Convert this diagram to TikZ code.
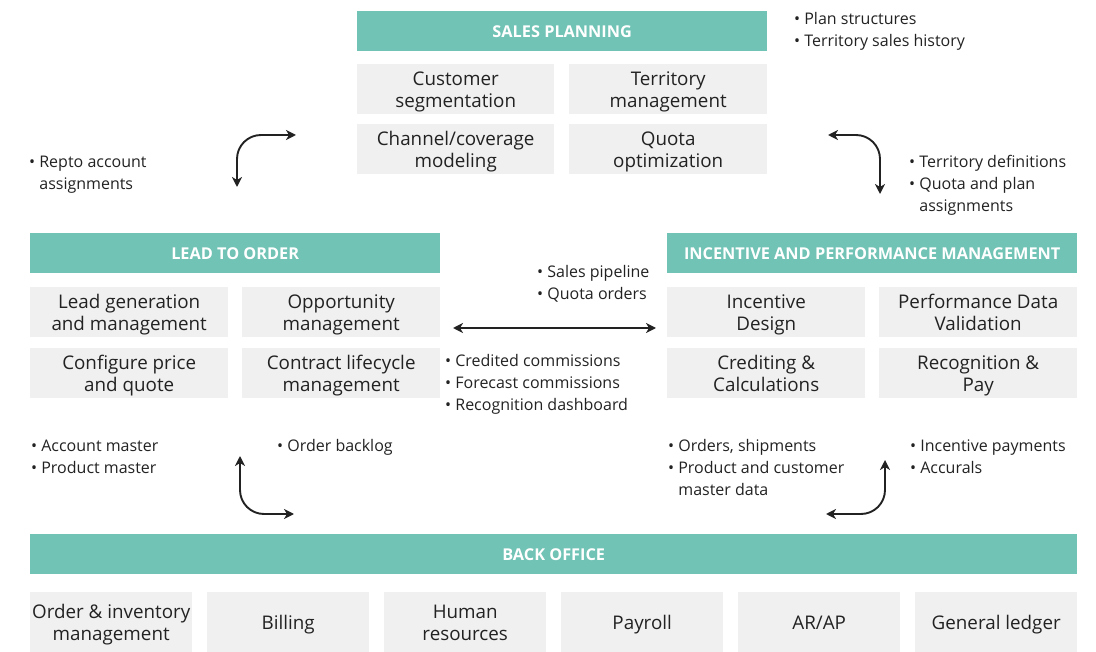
\documentclass[tikz,border=0pt]{standalone}
\usepackage{fontspec}
\setmainfont{Open Sans}
\usetikzlibrary{arrows.meta}
\definecolor{teal}{HTML}{70C3B5}
\definecolor{boxgray}{HTML}{F0F0F0}
\definecolor{ink}{HTML}{222222}
\newcommand{\cst}{\vphantom{dg}}
\tikzset{
  hdr/.style={fill=teal, draw=none, text=white, font=\bfseries\fontsize{16.3}{18}\selectfont, inner sep=0, anchor=north west, minimum height=40pt},
  cellbg/.style={fill=boxgray, draw=none, inner sep=0, anchor=north west},
  celltext/.style={text=ink, align=center, inner sep=0, font=\fontsize{18.8}{22}\selectfont,
    execute at begin node=\cst, execute at end node=\cst},
  blist/.style={anchor=north west, align=left, inner sep=0, text=ink, font=\fontsize{16}{22}\selectfont},
  conn/.style={line width=1.9pt, draw=ink, {Stealth[length=10pt,width=10pt,inset=3pt]}-{Stealth[length=10pt,width=10pt,inset=3pt]}, rounded corners=24pt}
}
\newcommand{\hb}{\phantom{•\ }}
\newcommand{\cellbox}[6]{%
  \node[cellbg, minimum width=#4pt, minimum height=#5pt] (#1) at (#2,#3) {};
  \node[celltext] (#1-t) at ([yshift=-2.5pt]#1.center) {#6};}
\begin{document}
\begin{tikzpicture}[x=1pt,y=-1pt]
\useasboundingbox (0,0) rectangle (1096,652);

% Sales planning
\node[hdr, minimum width=410pt] (sp) at (357,11) {SALES PLANNING};
\cellbox{sp1}{357}{64}{197}{50}{Customer\\segmentation}
\cellbox{sp2}{569}{64}{198}{50}{Territory\\management}
\cellbox{sp3}{357}{124}{197}{50}{Channel/coverage\\modeling}
\cellbox{sp4}{569}{124}{198}{50}{Quota\\optimization}

% Lead to order
\node[hdr, minimum width=410pt] (lo) at (30,233) {LEAD TO ORDER};
\cellbox{lo1}{30}{287}{198}{50}{Lead generation\\and management}
\cellbox{lo2}{242}{287}{198}{50}{Opportunity\\management}
\cellbox{lo3}{30}{348}{198}{50}{Configure price\\and quote}
\cellbox{lo4}{242}{348}{198}{50}{Contract lifecycle\\management}

% Incentive
\node[hdr, minimum width=410pt] (ip) at (667,233) {INCENTIVE AND PERFORMANCE MANAGEMENT};
\cellbox{ip1}{667}{287}{198}{50}{Incentive\\Design}
\cellbox{ip2}{879}{287}{198}{50}{Performance Data\\Validation}
\cellbox{ip3}{667}{348}{198}{50}{Crediting \&\\Calculations}
\cellbox{ip4}{879}{348}{198}{50}{Recognition \&\\Pay}

% Back office
\node[hdr, minimum width=1047pt] (bo) at (30,534) {BACK OFFICE};
\cellbox{bo1}{30}{592}{162}{60}{Order \& inventory\\management}
\cellbox{bo2}{207}{592}{162}{60}{Billing}
\cellbox{bo3}{384}{592}{162}{60}{Human\\resources}
\cellbox{bo4}{561}{592}{162}{60}{Payroll}
\cellbox{bo5}{738}{592}{162}{60}{AR/AP}
\cellbox{bo6}{915}{592}{162}{60}{General ledger}

% bullet lists
\node[blist] (t1) at (794,12.5) {• Plan structures\\• Territory sales history};
\node[blist] (t2) at (29,155.5) {• Repto account\\\hb assignments};
\node[blist] (t3) at (909,155.5) {• Territory definitions\\• Quota and plan\\\hb assignments};
\node[blist] (t4) at (537,265.5) {• Sales pipeline\\• Quota orders};
\node[blist] (t5) at (445,354.5) {• Credited commissions\\• Forecast commissions\\• Recognition dashboard};
\node[blist] (t6) at (31,439.5) {• Account master\\• Product master};
\node[blist] (t7) at (277,439.5) {• Order backlog};
\node[blist] (t8) at (668,439.5) {• Orders, shipments\\• Product and customer\\\hb master data};
\node[blist] (t9) at (910,439.5) {• Incentive payments\\• Accurals};

% connectors
\coordinate (a1s) at (237,187);
\coordinate (a1e) at (296,135);
\draw[conn] (a1s) |- (a1e);
\coordinate (a2s) at (828,135);
\coordinate (a2e) at (880,194);
\draw[conn] (a2s) -| (a2e);
\coordinate (a3s) at (240,456);
\coordinate (a3e) at (294,514);
\draw[conn] (a3s) |- (a3e);
\coordinate (a4s) at (826,514);
\coordinate (a4e) at (885,460);
\draw[conn] (a4s) -| (a4e);
\coordinate (m1) at (453,328);
\coordinate (m2) at (656,328);
\draw[conn] (m1) -- (m2);
\end{tikzpicture}
\end{document}
